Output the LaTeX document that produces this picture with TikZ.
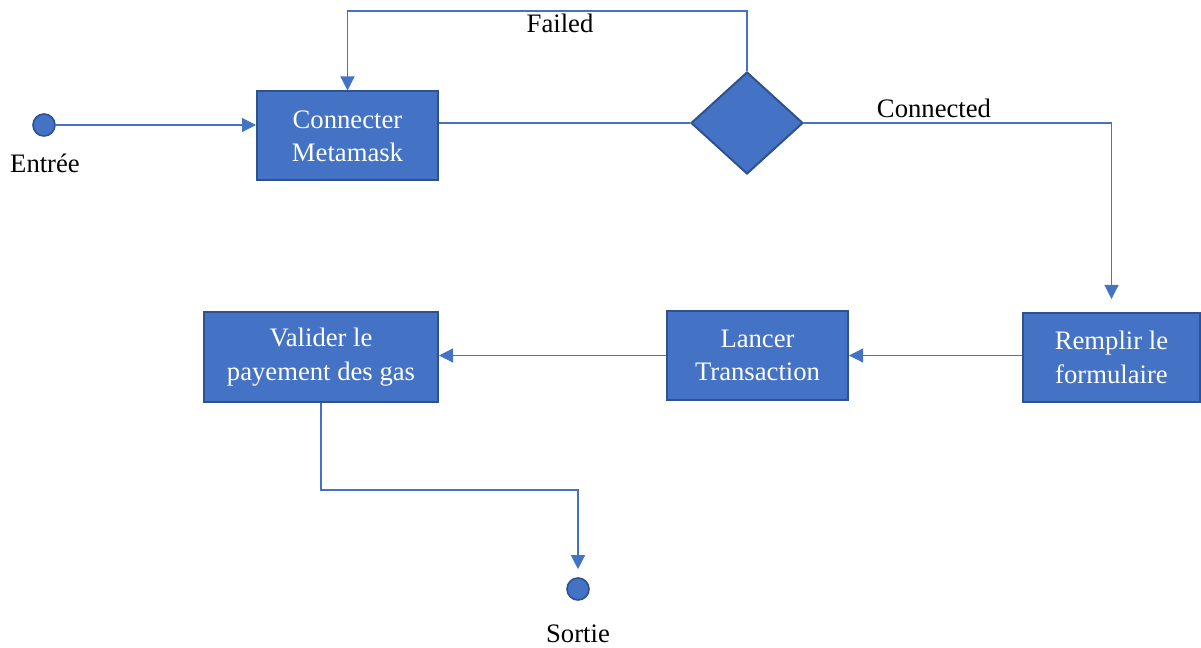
\documentclass[tikz,border=0pt]{standalone}
\usepackage{fontspec}
\setmainfont{Liberation Serif}
\usepackage{xcolor}
\usetikzlibrary{shapes.geometric,arrows.meta}
\definecolor{boxblue}{HTML}{4472C4}
\definecolor{edgeblue}{HTML}{2F528F}

\begin{document}
\begin{tikzpicture}[x=0.75pt,y=-0.75pt,
    font=\fontsize{20}{25}\selectfont,
    etat/.style={draw=edgeblue,line width=1.5pt,fill=boxblue,text=white,align=center,inner sep=0pt},
    point/.style={circle,draw=edgeblue,line width=1.2pt,fill=boxblue,minimum size=16.5pt,inner sep=0pt},
    flow/.style={draw=boxblue,line width=0.9pt,-{Triangle[length=10.5pt,width=10.5pt]}},
    plain/.style={draw=boxblue,line width=0.9pt}]
    \useasboundingbox (0,0) rectangle (1201,648);
    \node [point] (entree) at (44,125) {};
    \draw (45,163) node (lbin) {Entrée};
    \node [etat,minimum width=135.75pt,minimum height=66.75pt] (connect) at (347.5,136) {Connecter\\Metamask};
    \node [etat,diamond,minimum width=84pt,minimum height=76.5pt] (dec) at (747,123) {};
    \node [etat,minimum width=132.75pt,minimum height=66.75pt] (remplir) at (1111.5,357.5) {Remplir le\\formulaire};
    \node [etat,minimum width=135.75pt,minimum height=66.75pt] (lancer) at (757.5,355.5) {Lancer\\Transaction};
    \node [etat,minimum width=175.5pt,minimum height=67.5pt] (valider) at (321,357) {Valider le\\payement des gas};
    \node [point] (sortie) at (578,589) {};
    \draw (578,634) node (lbout) {Sortie};
    \draw [flow] (entree) -- (entree -| connect.west);
    \draw [plain] (dec.west -| connect.east) -- (dec.west);
    \draw [flow] (dec.north) -- ++(0,-60) -| (connect.north);
    \draw (560,23) node (lbfail) {Failed};
    \draw [flow,shorten >=9.75pt] (dec.east) -| (remplir.north);
    \draw (934,108) node (lbok) {Connected};
    \draw [flow] (remplir.west |- lancer) -- (lancer.east);
    \draw [flow] (lancer.west) -- (lancer.west -| valider.east);
    \draw [flow,shorten >=6pt] (valider.south) -- ++(0,87) -| (sortie.north);
\end{tikzpicture}
\end{document}
